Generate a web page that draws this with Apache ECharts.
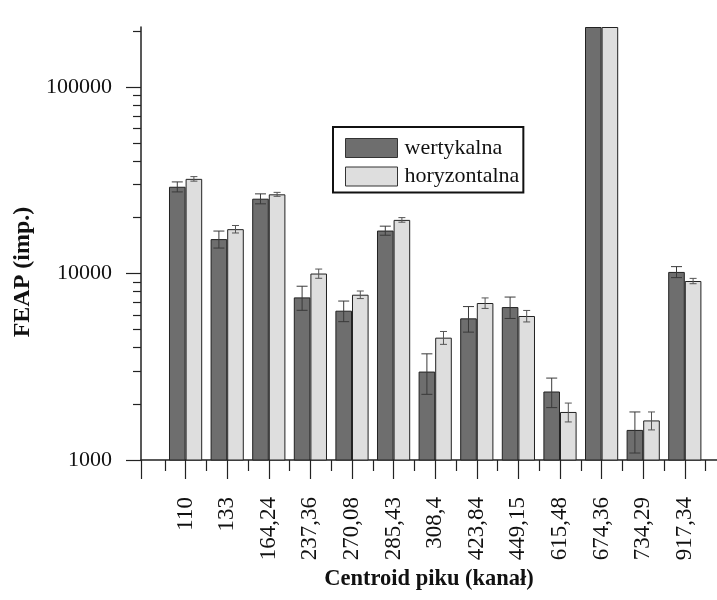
<!DOCTYPE html>
<html>
<head>
<meta charset="utf-8">
<script src="https://cdn.jsdelivr.net/npm/echarts@6/dist/echarts.min.js"></script>
<style>
  html, body { margin: 0; padding: 0; background: #fff; }
  #chart { width: 717px; height: 600px; }
</style>
</head>
<body>
<div id="chart"></div>
<script>
// Peak centroids (channel) and FEAP counts for both detector orientations
const categories = ['110', '133', '164,24', '237,36', '270,08', '285,43', '308,4',
                    '423,84', '449,15', '615,48', '674,36', '734,29', '917,34'];
const wertykalna      = [29200, 15300, 25200, 7450, 6320, 17000, 2980, 5750, 6610, 2330, 210000, 1450, 10200];
const wertykalnaErr   = [1800, 1600, 1550, 1100, 800, 950, 730, 900, 870, 420, 0, 360, 690];
const horyzontalna    = [32200, 17300, 26600, 10000, 7700, 19400, 4530, 6950, 5920, 1810, 210000, 1630, 9120];
const horyzontalnaErr = [900, 800, 650, 570, 360, 550, 360, 450, 420, 210, 0, 180, 300];
const yMajorTicks = [1000, 10000, 100000];
const yMinorTicks = [2000, 3000, 4000, 5000, 6000, 7000, 8000, 9000,
                     20000, 30000, 40000, 50000, 60000, 70000, 80000, 90000, 200000];

const FONT = "'Liberation Serif', 'Times New Roman', serif";
const INK = '#111';
const AXIS = '#222';
const X_MIN = -1.072, X_MAX = 12.774;
const Y_MIN = 1000, Y_MAX = 210000;
const BAR_W = 16.6;

const catIdx = categories.map((_, i) => i);
const halfIdx = [-0.5].concat(catIdx.map(i => i + 0.5));

function barData(vals) { return vals.map((v, i) => [i, v]); }
function errData(vals, errs) {
  const out = [];
  vals.forEach((v, i) => { if (errs[i] > 0) out.push([i, v - errs[i], v + errs[i]]); });
  return out;
}

// Whiskers drawn next to each bar centre; side = -1 for the left bar, +1 for the right one
function errorRenderer(side, capW, color) {
  return function (params, api) {
    const i = api.value(0);
    const pLo = api.coord([i, api.value(1)]);
    const pHi = api.coord([i, api.value(2)]);
    const x = pLo[0] + side * BAR_W / 2;
    const style = { stroke: color, lineWidth: 1 };
    return {
      type: 'group',
      children: [
        { type: 'line', shape: { x1: x, y1: pHi[1], x2: x, y2: pLo[1] }, style },
        { type: 'line', shape: { x1: x - capW / 2, y1: pHi[1], x2: x + capW / 2, y2: pHi[1] }, style },
        { type: 'line', shape: { x1: x - capW / 2, y1: pLo[1], x2: x + capW / 2, y2: pLo[1] }, style }
      ]
    };
  };
}

const chart = echarts.init(document.getElementById('chart'), null, { renderer: 'canvas' });

chart.setOption({
  animation: false,
  backgroundColor: '#fff',
  grid: { left: 141, right: 0, top: 27, bottom: 140, containLabel: false },
  legend: {
    orient: 'vertical',
    left: 333, top: 127,
    padding: [10, 4, 5, 12],
    itemWidth: 52, itemHeight: 19, itemGap: 6.5,
    icon: 'rect',
    borderColor: INK, borderWidth: 2,
    itemStyle: { borderColor: '#333', borderWidth: 1 },
    textStyle: { fontFamily: FONT, fontSize: 22, color: INK, padding: [0, 0, 0, 2] },
    data: ['wertykalna', 'horyzontalna']
  },
  xAxis: [{
    type: 'value', min: X_MIN, max: X_MAX,
    axisLine: { show: true, onZero: false, lineStyle: { color: AXIS, width: 1.5 } },
    axisTick: { show: true, customValues: [X_MIN].concat(catIdx), length: 19, lineStyle: { color: AXIS, width: 1.2 } },
    axisLabel: {
      customValues: catIdx,
      formatter: v => categories[Math.round(v)],
      rotate: 90, margin: 37,
      fontFamily: FONT, fontSize: 23, color: INK
    },
    splitLine: { show: false },
    name: 'Centroid piku (kanał)', nameLocation: 'middle', nameGap: 105,
    nameTextStyle: { fontFamily: FONT, fontSize: 22.5, fontWeight: 'bold', color: INK }
  }, {
    type: 'value', min: X_MIN, max: X_MAX, position: 'bottom', offset: 0,
    axisLine: { show: false, onZero: false },
    axisTick: { show: true, customValues: halfIdx, length: 11, lineStyle: { color: AXIS, width: 1.2 } },
    axisLabel: { show: false },
    splitLine: { show: false }
  }],
  yAxis: [{
    type: 'log', logBase: 10, min: Y_MIN, max: Y_MAX,
    axisLine: { show: true, onZero: false, lineStyle: { color: AXIS, width: 1.5 } },
    axisTick: { show: true, customValues: yMajorTicks, length: 15, lineStyle: { color: AXIS, width: 1.2 } },
    axisLabel: {
      customValues: yMajorTicks, margin: 29,
      formatter: v => String(Math.round(v)),
      fontFamily: FONT, fontSize: 22, color: INK
    },
    splitLine: { show: false },
    name: 'FEAP (imp.)', nameLocation: 'middle', nameGap: 100,
    nameTextStyle: { fontFamily: FONT, fontSize: 24, fontWeight: 'bold', color: INK, padding: [0, 57, 0, 0] }
  }, {
    type: 'log', logBase: 10, min: Y_MIN, max: Y_MAX, position: 'left', offset: 0,
    axisLine: { show: false, onZero: false },
    axisTick: { show: true, customValues: yMinorTicks, length: 8, lineStyle: { color: AXIS, width: 1.2 } },
    axisLabel: { show: false },
    splitLine: { show: false }
  }],
  series: [{
    name: 'wertykalna', type: 'bar',
    data: barData(wertykalna),
    barWidth: BAR_W, barGap: '0%',
    itemStyle: { color: '#6e6e6e', borderColor: '#222', borderWidth: 1 }
  }, {
    name: 'horyzontalna', type: 'bar',
    data: barData(horyzontalna),
    barWidth: BAR_W, barGap: '0%',
    itemStyle: { color: '#dedede', borderColor: '#222', borderWidth: 1 }
  }, {
    type: 'custom', name: 'wertykalna-err',
    renderItem: errorRenderer(-1, 11, '#3a3a3a'),
    data: errData(wertykalna, wertykalnaErr),
    encode: { x: 0, y: [1, 2] }, z: 5
  }, {
    type: 'custom', name: 'horyzontalna-err',
    renderItem: errorRenderer(1, 7, '#555'),
    data: errData(horyzontalna, horyzontalnaErr),
    encode: { x: 0, y: [1, 2] }, z: 5
  }]
});
</script>
</body>
</html>
